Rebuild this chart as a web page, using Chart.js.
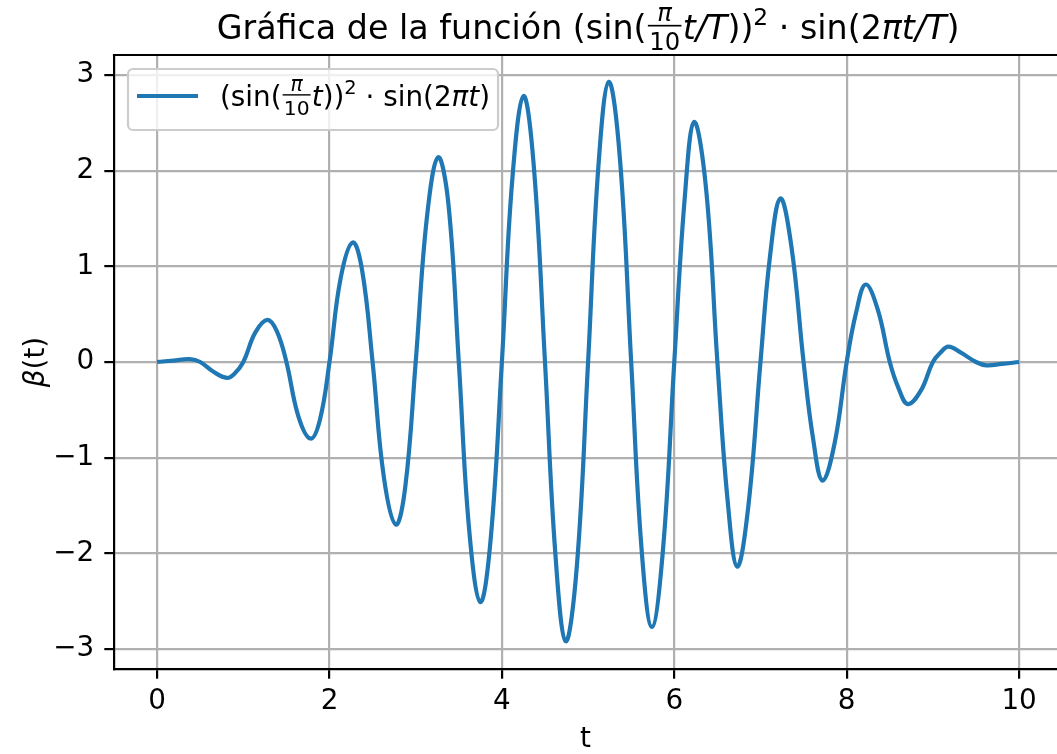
<!DOCTYPE html>
<html>
<head>
<meta charset="utf-8">
<title>Gráfica de la función</title>
<script src="https://cdn.jsdelivr.net/npm/chart.js@4.4.1/dist/chart.umd.min.js"></script>
<style>
  body { margin: 0; background: #fff; }
  canvas { display: block; }
</style>
</head>
<body>
<canvas id="grafica" width="1057" height="754"></canvas>
<script>
// t samples and beta(t), one line per unit of t
const tiempos = [
  0, 0.19, 0.38, 0.5, 0.65, 0.81, 0.9,
  1, 1.14, 1.28, 1.39, 1.5, 1.64, 1.78, 1.89,
  2, 2.13, 2.27, 2.38, 2.5, 2.63, 2.77, 2.88,
  3, 3.13, 3.26, 3.38, 3.5, 3.62, 3.75, 3.87,
  4, 4.12, 4.25, 4.37, 4.5, 4.62, 4.74, 4.87,
  5, 5.12, 5.24, 5.37, 5.5, 5.62, 5.74, 5.87,
  6, 6.12, 6.23, 6.37, 6.5, 6.62, 6.73, 6.86,
  7, 7.11, 7.23, 7.36, 7.5, 7.61, 7.72, 7.86,
  8, 8.11, 8.22, 8.36, 8.5, 8.6, 8.71, 8.86,
  9, 9.09, 9.18, 9.32, 9.5, 9.62, 9.8, 10
]
const beta = [
  0, 0.015, 0.03, 0, -0.1, -0.166, -0.12,
  0, 0.31, 0.44, 0.32, 0, -0.57, -0.8, -0.6,
  0, 0.88, 1.25, 0.95, 0, -1.2, -1.7, -1.3,
  0, 1.51, 2.14, 1.65, 0, -1.75, -2.51, -1.85,
  0, 1.9, 2.78, 2.05, 0, -2.0, -2.92, -2.13,
  0, 2.05, 2.93, 2.12, 0, -1.95, -2.77, -1.95,
  0, 1.7, 2.51, 1.8, 0, -1.46, -2.14, -1.5,
  0, 1.1, 1.71, 1.2, 0, -0.8, -1.24, -0.85,
  0, 0.52, 0.81, 0.55, 0, -0.27, -0.44, -0.3,
  0, 0.1, 0.16, 0.1, 0, -0.035, -0.02, 0
]
const xTicks = [0, 2, 4, 6, 8, 10]
const yTicks = [-3, -2, -1, 0, 1, 2, 3]

const FAMILIA = "'DejaVu Sans', sans-serif"
const AZUL = '#1f77b4'
const TAM = 27.8        // tick, label and legend text
const TAM_TITULO = 33.3

// pieces of the math text: plain, italic, superscript or a small fraction
const tituloRuns = [
  { t: 'Gráfica de la función (sin(' },
  { num: 'π', den: '10' },
  { t: 't/T', it: true },
  { t: '))' },
  { t: '2', sup: true },
  { t: ' · sin(2' },
  { t: 'πt/T', it: true },
  { t: ')' }
]
const leyendaRuns = [
  { t: '(sin(' },
  { num: 'π', den: '10' },
  { t: 't', it: true },
  { t: '))' },
  { t: '2', sup: true },
  { t: ' · sin(2' },
  { t: 'πt', it: true },
  { t: ')' }
]
const ejeYRuns = [
  { t: 'β', it: true },
  { t: '(t)' }
]

function fuente(size, italic) {
  return (italic ? 'oblique ' : '') + size + 'px ' + FAMILIA
}

function anchoRun(ctx, r, size) {
  if (r.num) {
    ctx.font = fuente(size * 0.73, true)
    let wn = ctx.measureText(r.num).width
    ctx.font = fuente(size * 0.73, false)
    let wd = ctx.measureText(r.den).width
    return Math.max(wn, wd) + size * 0.16
  }
  ctx.font = fuente(r.sup ? size * 0.7 : size, r.it)
  return ctx.measureText(r.t).width
}

function anchoTotal(ctx, runs, size) {
  return runs.reduce((s, r) => s + anchoRun(ctx, r, size), 0)
}

function dibujarRuns(ctx, runs, x, base, size) {
  ctx.save()
  ctx.fillStyle = 'black'
  ctx.textBaseline = 'alphabetic'
  ctx.textAlign = 'left'
  for (let r of runs) {
    let w = anchoRun(ctx, r, size)
    if (r.num) {
      let fs = size * 0.73
      let barra = base - size * 0.4
      ctx.textAlign = 'center'
      ctx.font = fuente(fs, true)
      ctx.fillText(r.num, x + w / 2, barra - size * 0.15)
      ctx.font = fuente(fs, false)
      ctx.fillText(r.den, x + w / 2, barra + size * 0.72)
      ctx.fillRect(x + size * 0.04, barra - size * 0.025, w - size * 0.08, size * 0.05)
      ctx.textAlign = 'left'
    } else if (r.sup) {
      ctx.font = fuente(size * 0.7, false)
      ctx.fillText(r.t, x, base - size * 0.42)
    } else {
      ctx.font = fuente(size, r.it)
      ctx.fillText(r.t, x, base)
    }
    x += w
  }
  ctx.restore()
}

// top spine, y label, legend box and title
const marco = {
  id: 'marco',
  afterDraw(chart) {
    const ctx = chart.ctx
    const area = chart.chartArea

    ctx.save()
    ctx.strokeStyle = 'black'
    ctx.lineWidth = 2.2
    ctx.beginPath()
    ctx.moveTo(area.left - 1.1, area.top)
    ctx.lineTo(area.right, area.top)
    ctx.stroke()

    // y label, rotated, with an italic beta
    let wy = anchoTotal(ctx, ejeYRuns, TAM)
    ctx.translate(44, (area.top + area.bottom) / 2)
    ctx.rotate(-Math.PI / 2)
    dibujarRuns(ctx, ejeYRuns, -wy / 2, 0, TAM)
    ctx.restore()

    // legend
    ctx.save()
    let lx = 128, ly = 69, lh = 61
    let textoX = 220
    let lw = textoX - lx + anchoTotal(ctx, leyendaRuns, TAM) + 8
    ctx.fillStyle = 'rgba(255,255,255,0.8)'
    ctx.strokeStyle = '#cccccc'
    ctx.lineWidth = 2.2
    ctx.beginPath()
    ctx.roundRect(lx, ly, lw, lh, 5)
    ctx.fill()
    ctx.stroke()
    ctx.strokeStyle = AZUL
    ctx.lineWidth = 4.2
    ctx.beginPath()
    ctx.moveTo(137, 96)
    ctx.lineTo(198, 96)
    ctx.stroke()
    ctx.restore()
    dibujarRuns(ctx, leyendaRuns, textoX, 106, TAM)

    // title centred over the axes (t = 5 sits in the middle of the frame)
    let wt = anchoTotal(ctx, tituloRuns, TAM_TITULO)
    let cx = chart.scales.x.getPixelForValue(5)
    dibujarRuns(ctx, tituloRuns, cx - wt / 2, 39, TAM_TITULO)
  }
}

function etiqueta(value) {
  return value < 0 ? '\u2212' + Math.abs(value) : String(value)
}

const rejilla = { color: '#b0b0b0', lineWidth: 2.2, tickColor: 'black', tickWidth: 2.2, tickLength: 9.7 }
const borde = { color: 'black', width: 2.2 }
const letra = { size: TAM, family: FAMILIA }

new Chart(document.getElementById('grafica'), {
  type: 'line',
  data: {
    datasets: [{
      label: '(sin(π/10 t))² · sin(2πt)',
      data: tiempos.map((t, i) => ({ x: t, y: beta[i] })),
      borderColor: AZUL,
      borderWidth: 4.2,
      pointRadius: 0,
      fill: false,
      tension: 0.4
    }]
  },
  options: {
    responsive: false,
    animation: false,
    layout: { padding: { top: 55, right: 0, bottom: 0, left: 0 } },
    plugins: {
      legend: { display: false },
      title: { display: false },
      tooltip: { enabled: false }
    },
    scales: {
      x: {
        type: 'linear',
        min: -0.5,
        max: 10.44,
        afterBuildTicks: s => { s.ticks = xTicks.map(v => ({ value: v })) },
        afterFit: s => { s.height = 85 },
        ticks: { color: 'black', font: letra, padding: 6, maxRotation: 0, autoSkip: false, callback: etiqueta },
        grid: rejilla,
        border: borde,
        title: { display: true, text: 't', color: 'black', font: { size: TAM, family: FAMILIA, lineHeight: 1 }, padding: { top: 0, bottom: 0 } }
      },
      y: {
        min: -3.21,
        max: 3.21,
        afterBuildTicks: s => { s.ticks = yTicks.map(v => ({ value: v })) },
        afterFit: s => { s.width = 114 },
        ticks: { color: 'black', font: letra, padding: 10, autoSkip: false, callback: etiqueta },
        grid: rejilla,
        border: borde
      }
    }
  },
  plugins: [marco]
})
</script>
</body>
</html>
